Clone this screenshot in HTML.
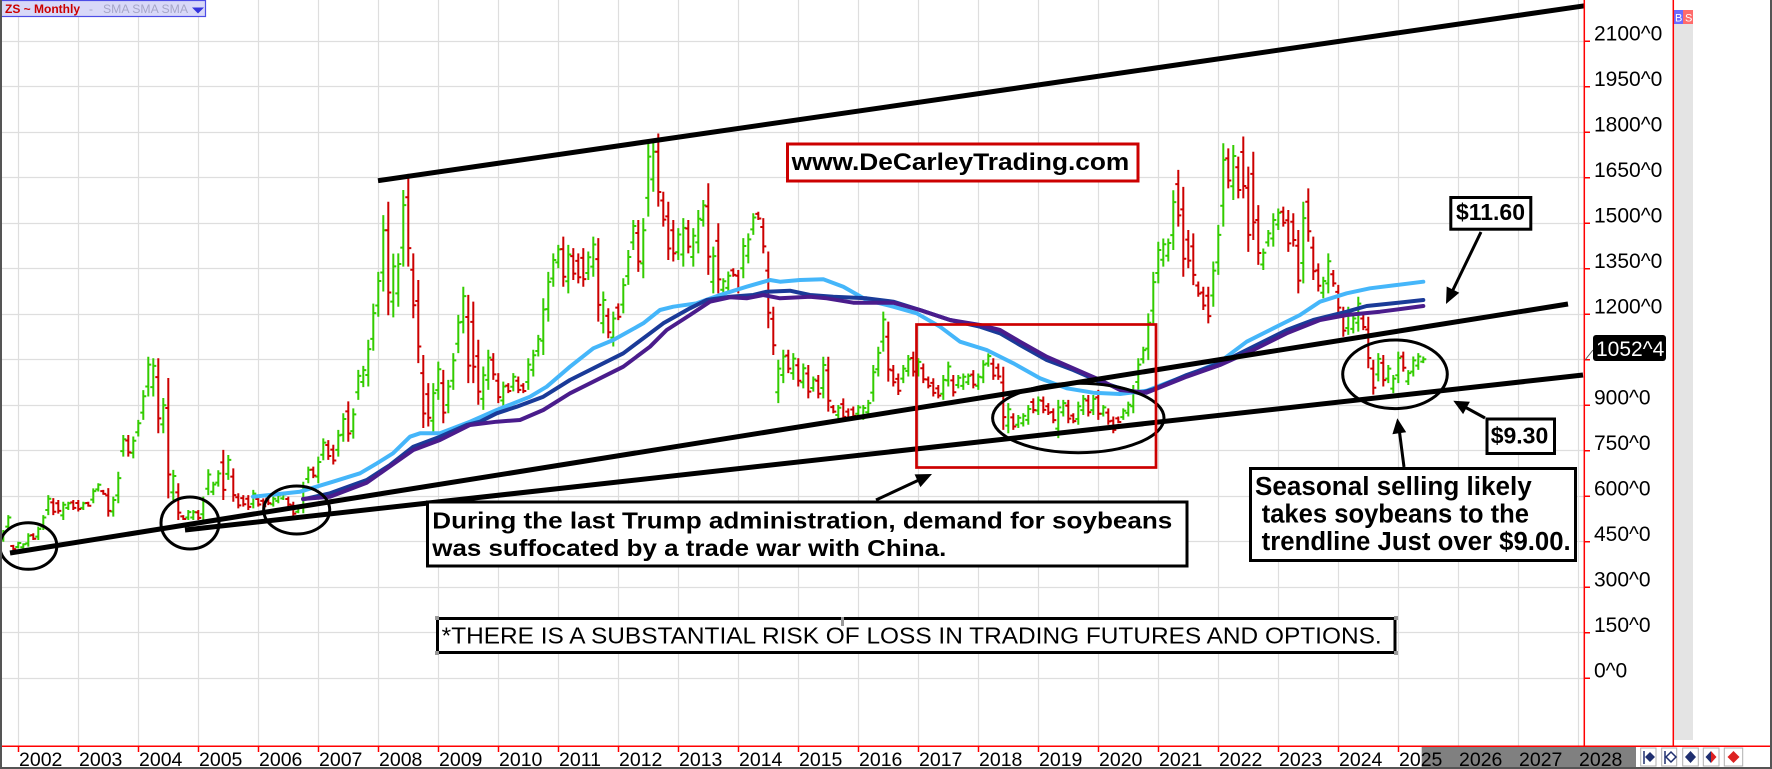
<!DOCTYPE html>
<html><head><meta charset="utf-8"><style>html,body{margin:0;padding:0;background:#fff;width:1772px;height:769px;overflow:hidden}svg{display:block}</style></head>
<body>
<svg width="1772" height="769" viewBox="0 0 1772 769" xmlns="http://www.w3.org/2000/svg" font-family="'Liberation Sans', Arial, sans-serif">
<defs><clipPath id="pa"><rect x="0" y="0" width="1584" height="746"/></clipPath></defs>
<rect x="0" y="0" width="1772" height="769" fill="#fff"/>
<!-- grid -->
<path stroke="#dedede" stroke-width="1.2" fill="none" d="M18.5 0V746M78.5 0V746M138.5 0V746M198.5 0V746M258.5 0V746M318.5 0V746M378.5 0V746M438.5 0V746M498.5 0V746M558.5 0V746M618.5 0V746M678.5 0V746M738.5 0V746M798.5 0V746M858.5 0V746M918.5 0V746M978.5 0V746M1038.5 0V746M1098.5 0V746M1158.5 0V746M1218.5 0V746M1278.5 0V746M1338.5 0V746M1398.5 0V746M1458.5 0V746M1518.5 0V746M1578.5 0V746M0 678.5H1584M0 632.5H1584M0 587.5H1584M0 541.5H1584M0 496.5H1584M0 450.5H1584M0 405.5H1584M0 359.5H1584M0 314.5H1584M0 268.5H1584M0 223.5H1584M0 177.5H1584M0 132.5H1584M0 86.5H1584M0 41.5H1584"/>
<g clip-path="url(#pa)">
<g transform="matrix(5,0,0,-0.30333,18.3,678.3)">
<path vector-effect="non-scaling-stroke" stroke="#33cc00" stroke-width="2" fill="none" d="M-3 489V450M-3 460h-.6M-3 482h.6M-2 538V489M-2 500h-.6M-2 530h.6M0 450V428M0 433h-.6M0 446h.6M1 445V428M1 432h-.6M1 442h.6M2 478V434M2 445h-.6M2 470h.6M4 500V456M4 467h-.6M4 492h.6M5 538V489M5 500h-.6M5 530h.6M6 604V538M6 555h-.6M6 592h.6M9 582V522M9 537h-.6M9 572h.6M10 582V555M10 562h-.6M10 577h.6M13 582V555M13 562h-.6M13 577h.6M15 626V577M15 589h-.6M15 617h.6M16 643V616M16 623h-.6M16 638h.6M19 599V533M19 550h-.6M19 588h.6M20 681V577M20 603h-.6M20 660h.6M21 802V731M21 749h-.6M21 788h.6M23 797V725M23 743h-.6M23 783h.6M24 852V797M24 811h-.6M24 841h.6M25 950V852M25 876h-.6M25 930h.6M26 1060V929M26 962h-.6M26 1034h.6M27 1055V929M27 960h-.6M27 1030h.6M29 924V808M29 837h-.6M29 900h.6M31 687V588M31 613h-.6M31 667h.6M34 555V522M34 530h-.6M34 548h.6M35 555V522M35 530h-.6M35 548h.6M37 599V522M37 541h-.6M37 584h.6M38 689V604M38 625h-.6M38 672h.6M39 648V604M39 615h-.6M39 639h.6M40 686V632M40 645h-.6M40 675h.6M42 736V654M42 674h-.6M42 720h.6M47 621V560M47 575h-.6M47 609h.6M51 599V566M51 574h-.6M51 592h.6M52 610V577M52 585h-.6M52 603h.6M53 610V588M53 593h-.6M53 606h.6M56 566V544M56 549h-.6M56 562h.6M57 648V544M57 570h-.6M57 627h.6M58 698V643M58 657h-.6M58 687h.6M60 731V643M60 665h-.6M60 713h.6M61 791V719M61 737h-.6M61 777h.6M64 819V731M64 753h-.6M64 801h.6M65 874V780M65 803h-.6M65 855h.6M67 890V790M67 815h-.6M67 870h.6M68 1017V918M68 943h-.6M68 997h.6M69 1030V960M69 977h-.6M69 1016h.6M70 1116V962M70 1000h-.6M70 1085h.6M71 1235V1080M71 1119h-.6M71 1204h.6M72 1340V1192M72 1229h-.6M72 1310h.6M73 1527V1275M73 1338h-.6M73 1477h.6M75 1400V1190M75 1242h-.6M75 1358h.6M76 1401V1225M76 1269h-.6M76 1366h.6M77 1610V1357M77 1420h-.6M77 1560h.6M83 973V808M83 849h-.6M83 940h.6M84 1044V918M84 950h-.6M84 1019h.6M86 984V874M86 901h-.6M86 962h.6M87 1072V951M87 981h-.6M87 1048h.6M88 1198V1072M88 1103h-.6M88 1173h.6M89 1291V1137M89 1175h-.6M89 1260h.6M93 1028V885M93 921h-.6M93 999h.6M94 1083V951M94 984h-.6M94 1057h.6M97 978V896M97 916h-.6M97 962h.6M99 1006V946M99 961h-.6M99 994h.6M102 1055V951M102 977h-.6M102 1034h.6M103 1083V995M103 1017h-.6M103 1065h.6M104 1132V1061M104 1079h-.6M104 1118h.6M105 1253V1066M105 1113h-.6M105 1216h.6M106 1340V1176M106 1217h-.6M106 1307h.6M107 1401V1291M107 1318h-.6M107 1379h.6M108 1429V1352M108 1371h-.6M108 1414h.6M110 1429V1269M110 1309h-.6M110 1397h.6M114 1407V1313M114 1336h-.6M114 1388h.6M115 1456V1324M115 1357h-.6M115 1430h.6M117 1275V1137M117 1171h-.6M117 1247h.6M119 1209V1094M119 1123h-.6M119 1186h.6M121 1319V1203M121 1232h-.6M121 1296h.6M122 1412V1297M122 1326h-.6M122 1389h.6M123 1511V1412M123 1437h-.6M123 1491h.6M125 1517V1319M125 1368h-.6M125 1477h.6M126 1769V1522M126 1584h-.6M126 1720h.6M127 1769V1604M127 1645h-.6M127 1736h.6M132 1484V1379M132 1405h-.6M132 1463h.6M133 1517V1357M133 1397h-.6M133 1485h.6M135 1484V1357M135 1389h-.6M135 1459h.6M136 1544V1401M136 1437h-.6M136 1515h.6M137 1577V1489M137 1511h-.6M137 1559h.6M139 1423V1269M139 1307h-.6M139 1392h.6M141 1319V1269M141 1281h-.6M141 1309h.6M142 1341V1269M142 1287h-.6M142 1327h.6M145 1451V1319M145 1352h-.6M145 1425h.6M146 1467V1368M146 1393h-.6M146 1447h.6M147 1533V1462M147 1480h-.6M147 1519h.6M152 1050V907M152 943h-.6M152 1021h.6M153 1083V973M153 1000h-.6M153 1061h.6M155 1072V984M155 1006h-.6M155 1054h.6M157 1038V956M157 976h-.6M157 1022h.6M159 995V945M159 957h-.6M159 985h.6M161 1060V923M161 957h-.6M161 1033h.6M164 901V857M164 868h-.6M164 892h.6M168 901V863M168 872h-.6M168 893h.6M169 901V852M169 864h-.6M169 891h.6M170 918V863M170 877h-.6M170 907h.6M171 1033V912M171 942h-.6M171 1009h.6M172 1093V995M172 1019h-.6M172 1073h.6M173 1209V1077M173 1110h-.6M173 1183h.6M177 1033V973M177 988h-.6M177 1021h.6M178 1066V995M178 1013h-.6M178 1052h.6M180 1055V995M180 1010h-.6M180 1043h.6M185 1000V918M185 938h-.6M185 984h.6M186 1044V962M186 982h-.6M186 1028h.6M188 1000V956M188 967h-.6M188 991h.6M189 1005V951M189 964h-.6M189 994h.6M190 1005V967M190 976h-.6M190 997h.6M192 1005V951M192 964h-.6M192 994h.6M193 1049V973M193 992h-.6M193 1034h.6M194 1071V1027M194 1038h-.6M194 1062h.6M198 907V808M198 833h-.6M198 887h.6M200 868V825M200 836h-.6M200 859h.6M201 874V830M201 841h-.6M201 865h.6M202 901V836M202 852h-.6M202 888h.6M204 929V868M204 883h-.6M204 917h.6M208 918V792M208 823h-.6M208 893h.6M209 918V863M209 877h-.6M209 907h.6M212 912V836M212 855h-.6M212 897h.6M213 934V868M213 884h-.6M213 921h.6M215 934V868M215 884h-.6M215 921h.6M217 901V863M217 872h-.6M217 893h.6M221 890V852M221 861h-.6M221 882h.6M222 912V863M222 875h-.6M222 902h.6M223 967V874M223 897h-.6M223 948h.6M224 1055V951M224 977h-.6M224 1034h.6M225 1093V1038M225 1052h-.6M225 1082h.6M226 1203V1049M226 1087h-.6M226 1172h.6M227 1340V1170M227 1212h-.6M227 1306h.6M228 1439V1302M228 1336h-.6M228 1412h.6M229 1450V1357M229 1380h-.6M229 1431h.6M230 1450V1374M230 1393h-.6M230 1435h.6M231 1609V1412M231 1461h-.6M231 1570h.6M239 1374V1225M239 1262h-.6M239 1344h.6M240 1495V1330M240 1371h-.6M240 1462h.6M241 1764V1489M241 1558h-.6M241 1709h.6M243 1758V1577M243 1622h-.6M243 1722h.6M249 1417V1346M249 1364h-.6M249 1403h.6M250 1478V1423M250 1437h-.6M250 1467h.6M251 1533V1423M251 1450h-.6M251 1511h.6M252 1549V1478M252 1496h-.6M252 1535h.6M257 1571V1302M257 1369h-.6M257 1517h.6M261 1324V1253M261 1271h-.6M261 1310h.6M262 1401V1269M262 1302h-.6M262 1375h.6M266 1225V1132M266 1155h-.6M266 1206h.6M267 1198V1137M267 1152h-.6M267 1186h.6M268 1258V1143M268 1172h-.6M268 1235h.6M272 1072V979M272 1002h-.6M272 1053h.6M274 1033V973M274 988h-.6M274 1021h.6M275 1000V940M275 955h-.6M275 988h.6M276 1077V973M276 999h-.6M276 1056h.6M278 1016V967M278 979h-.6M278 1006h.6M279 1061V995M279 1011h-.6M279 1048h.6M280 1072V1017M280 1031h-.6M280 1061h.6M281 1061V1039M281 1044h-.6M281 1052h.6"/>
<path vector-effect="non-scaling-stroke" stroke="#cc0000" stroke-width="2" fill="none" d="M-1 440V423M-1 436h-.6M-1 426h.6M3 478V456M3 472h-.6M3 460h.6M7 594V538M7 580h-.6M7 549h.6M8 588V543M8 577h-.6M8 552h.6M11 588V555M11 580h-.6M11 562h.6M12 588V550M12 578h-.6M12 558h.6M14 582V566M14 578h-.6M14 569h.6M17 621V605M17 617h-.6M17 608h.6M18 627V533M18 603h-.6M18 552h.6M22 802V731M22 784h-.6M22 745h.6M28 1055V808M28 993h-.6M28 857h.6M30 990V593M30 891h-.6M30 672h.6M32 643V522M32 613h-.6M32 546h.6M33 538V522M33 534h-.6M33 525h.6M36 555V522M36 547h-.6M36 529h.6M41 753V588M41 712h-.6M41 621h.6M43 692V582M43 665h-.6M43 604h.6M44 610V560M44 597h-.6M44 570h.6M45 604V566M45 594h-.6M45 574h.6M46 604V555M46 592h-.6M46 565h.6M48 599V566M48 591h-.6M48 573h.6M49 593V560M49 585h-.6M49 567h.6M50 599V571M50 592h-.6M50 577h.6M54 599V566M54 591h-.6M54 573h.6M55 582V533M55 570h-.6M55 543h.6M59 698V660M59 688h-.6M59 668h.6M62 785V720M62 769h-.6M62 733h.6M63 770V705M63 754h-.6M63 718h.6M66 913V780M66 880h-.6M66 807h.6M74 1571V1197M74 1477h-.6M74 1272h.6M78 1663V1357M78 1586h-.6M78 1418h.6M79 1401V1187M79 1347h-.6M79 1230h.6M80 1313V1039M80 1244h-.6M80 1094h.6M81 1066V825M81 1006h-.6M81 873h.6M82 973V830M82 937h-.6M82 859h.6M85 1017V841M85 973h-.6M85 876h.6M90 1264V973M90 1191h-.6M90 1031h.6M91 1242V973M91 1175h-.6M91 1027h.6M92 1116V902M92 1062h-.6M92 945h.6M95 1072V984M95 1050h-.6M95 1002h.6M96 1006V907M96 981h-.6M96 927h.6M98 973V940M98 965h-.6M98 947h.6M100 995V940M100 981h-.6M100 951h.6M101 973V940M101 965h-.6M101 947h.6M109 1456V1291M109 1415h-.6M109 1324h.6M111 1418V1313M111 1392h-.6M111 1334h.6M112 1401V1302M112 1376h-.6M112 1322h.6M113 1418V1291M113 1386h-.6M113 1316h.6M116 1451V1176M116 1382h-.6M116 1231h.6M118 1220V1121M118 1195h-.6M118 1141h.6M120 1236V1181M120 1222h-.6M120 1192h.6M124 1511V1340M124 1468h-.6M124 1374h.6M128 1796V1555M128 1736h-.6M128 1603h.6M129 1604V1489M129 1575h-.6M129 1512h.6M130 1571V1379M130 1523h-.6M130 1417h.6M131 1511V1374M131 1477h-.6M131 1401h.6M134 1511V1401M134 1483h-.6M134 1423h.6M138 1632V1330M138 1556h-.6M138 1390h.6M140 1500V1269M140 1442h-.6M140 1315h.6M143 1352V1324M143 1345h-.6M143 1330h.6M144 1346V1269M144 1327h-.6M144 1284h.6M148 1538V1511M148 1531h-.6M148 1516h.6M149 1517V1401M149 1488h-.6M149 1424h.6M150 1407V1154M150 1344h-.6M150 1205h.6M151 1225V1066M151 1185h-.6M151 1098h.6M154 1083V1006M154 1064h-.6M154 1021h.6M156 1055V962M156 1032h-.6M156 981h.6M158 1033V923M158 1005h-.6M158 945h.6M160 1000V923M160 981h-.6M160 938h.6M162 1060V879M162 1015h-.6M162 915h.6M163 901V874M163 894h-.6M163 879h.6M165 923V847M165 904h-.6M165 862h.6M166 890V847M166 879h-.6M166 856h.6M167 896V857M167 886h-.6M167 865h.6M174 1176V978M174 1126h-.6M174 1018h.6M175 1033V962M175 1015h-.6M175 976h.6M176 1005V934M176 987h-.6M176 948h.6M179 1077V995M179 1056h-.6M179 1011h.6M181 1038V973M181 1022h-.6M181 986h.6M182 995V956M182 985h-.6M182 964h.6M183 989V929M183 974h-.6M183 941h.6M184 967V923M184 956h-.6M184 932h.6M187 1000V929M187 982h-.6M187 943h.6M191 1016V956M191 1001h-.6M191 968h.6M195 1055V984M195 1037h-.6M195 998h.6M196 1038V984M196 1024h-.6M196 995h.6M197 1027V819M197 975h-.6M197 861h.6M199 874V819M199 860h-.6M199 830h.6M203 923V874M203 911h-.6M203 884h.6M205 929V874M205 915h-.6M205 885h.6M206 907V868M206 897h-.6M206 876h.6M207 890V841M207 878h-.6M207 851h.6M210 918V841M210 899h-.6M210 856h.6M211 874V841M211 866h-.6M211 848h.6M214 934V863M214 916h-.6M214 877h.6M216 951V852M216 926h-.6M216 872h.6M218 890V836M218 876h-.6M218 847h.6M219 863V808M219 849h-.6M219 819h.6M220 863V841M220 857h-.6M220 845h.6M232 1676V1489M232 1629h-.6M232 1526h.6M233 1620V1324M233 1546h-.6M233 1383h.6M234 1478V1352M234 1446h-.6M234 1377h.6M235 1467V1296M235 1424h-.6M235 1330h.6M236 1308V1258M236 1295h-.6M236 1268h.6M237 1291V1214M237 1272h-.6M237 1229h.6M238 1291V1170M238 1261h-.6M238 1194h.6M242 1747V1615M242 1714h-.6M242 1641h.6M244 1720V1582M244 1685h-.6M244 1610h.6M245 1786V1582M245 1735h-.6M245 1623h.6M246 1687V1406M246 1617h-.6M246 1462h.6M247 1736V1445M247 1663h-.6M247 1503h.6M248 1560V1363M248 1511h-.6M248 1402h.6M253 1555V1489M253 1538h-.6M253 1502h.6M254 1544V1406M254 1510h-.6M254 1434h.6M255 1533V1423M255 1505h-.6M255 1445h.6M256 1478V1269M256 1426h-.6M256 1311h.6M258 1615V1439M258 1571h-.6M258 1474h.6M259 1456V1313M259 1420h-.6M259 1342h.6M260 1368V1275M260 1345h-.6M260 1294h.6M263 1346V1291M263 1332h-.6M263 1302h.6M264 1297V1203M264 1274h-.6M264 1222h.6M265 1225V1126M265 1200h-.6M265 1146h.6M269 1198V1148M269 1186h-.6M269 1158h.6M270 1192V1022M270 1150h-.6M270 1056h.6M271 1050V935M271 1021h-.6M271 958h.6M273 1066V962M273 1040h-.6M273 983h.6M277 1077V1011M277 1061h-.6M277 1024h.6"/>
</g>
<!-- moving averages -->
<g fill="none" stroke-width="4" stroke-linejoin="round" stroke-linecap="round">
<polyline stroke="#45b6fa" points="253,496.7 300,491.7 333,481.7 360,473.3 377,463.3 393,453.3 410,436.7 420,433.3 440,433.3 470,421.7 496.7,410 530,396.7 546.7,386.7 570,366.7 593.3,348.3 613.3,340 643.3,323.3 660,310 673.3,306.7 696.7,303.3 720,295 746.7,286.7 770,280 780,281.7 800,280 823.3,279.3 843.3,286.7 866.7,300 893.3,306.7 916.7,313.3 940,326.7 960,341.7 986.7,350 1013.3,363.3 1040,378.3 1066.7,388.3 1093.3,392.7 1120,394 1146.7,390.7 1170,381.7 1196.7,371.7 1220,361.7 1246.7,341.7 1273.3,328.3 1300,315 1320,301.7 1346.7,293.3 1370,288.3 1396.7,285 1423.3,281.7"/>
<polyline stroke="#1a3a98" points="303.3,499.3 330,493.3 366.7,480 390,465 413.3,446.7 440,436.7 466.7,425 480,421.7 496.7,413.3 516.7,406.7 543.3,396.7 570,380 603.3,363.3 623.3,353.3 650,333.3 663.3,323.3 690,308.3 706.7,300 730,296.7 753.3,295 766.7,291.7 790,290.7 810,295 833.3,296.7 866.7,298.3 893.3,301.7 920,310 950,320 980,326.7 1000,333.3 1020,345 1046.7,360 1073.3,370 1100,381.7 1120,388.3 1140,393.3 1153.3,389.3 1186.7,375 1220,363.3 1253.3,346.7 1286.7,330 1313.3,320 1346.7,311.7 1366.7,306 1393.3,303.3 1423.3,300"/>
<polyline stroke="#4a1c8c" points="303,499 330,496.7 366.7,482.7 413.3,450 440,440 470,425 496.7,421.7 520,420 543.3,410 570,393.3 603.3,376.7 623.3,366.7 650,346.7 666.7,330 690,315 710,301.7 730,297.3 746.7,298.3 763.3,295 780,298.3 810,296.7 826.7,298.3 853.3,302.7 893.3,302.7 920,310 950,320 980,325 1000,330 1020,341.7 1046.7,356.7 1073.3,368.3 1100,380 1120,390 1146.7,392.7 1186.7,376.7 1220,365 1253.3,350 1286.7,333.3 1320,320 1346.7,315 1380,311.7 1423.3,306"/>
</g>
<!-- trend lines -->
<g stroke="#000" stroke-width="5" fill="none">
<line x1="10" y1="553" x2="1568" y2="304"/>
<line x1="185" y1="530" x2="1583" y2="375"/>
<line x1="378" y1="180.7" x2="1590" y2="5"/>
</g>
<!-- ellipses -->
<g stroke="#000" stroke-width="3" fill="none">
<ellipse cx="28.3" cy="546" rx="28.5" ry="23.3"/>
<ellipse cx="190" cy="523" rx="29" ry="26"/>
<ellipse cx="296.7" cy="510" rx="33" ry="24"/>
<ellipse cx="1078.3" cy="418" rx="85.7" ry="34.7"/>
<ellipse cx="1395" cy="374.3" rx="52.3" ry="34.3"/>
</g>
<rect x="916.5" y="324.5" width="239.5" height="143" fill="none" stroke="#cc0000" stroke-width="2.7"/>
</g>
<!-- annotation boxes -->
<rect x="787.5" y="144" width="350.5" height="37" fill="#fff" stroke="#cc0000" stroke-width="3"/>
<text x="791.7" y="170" font-size="24" font-weight="bold" textLength="337.6" lengthAdjust="spacingAndGlyphs">www.DeCarleyTrading.com</text>

<rect x="427.5" y="502" width="759.5" height="64" fill="#fff" stroke="#000" stroke-width="3"/>
<text x="432.3" y="528.3" font-size="23" font-weight="bold" font-family="'Liberation Sans Narrow','Liberation Sans',Arial,sans-serif" textLength="740" lengthAdjust="spacingAndGlyphs">During the last Trump administration, demand for soybeans</text>
<text x="432.3" y="556" font-size="23" font-weight="bold" font-family="'Liberation Sans Narrow','Liberation Sans',Arial,sans-serif" textLength="514" lengthAdjust="spacingAndGlyphs">was suffocated by a trade war with China.</text>

<rect x="437.5" y="618.5" width="957.5" height="34" fill="#fff" stroke="#000" stroke-width="3"/>
<rect x="435" y="616" width="4" height="4" fill="#999"/><rect x="435" y="651" width="4" height="4" fill="#999"/><rect x="1394" y="616" width="4" height="4" fill="#999"/><rect x="1394" y="651" width="4" height="4" fill="#999"/><rect x="841" y="617" width="3" height="9" fill="#999"/>
<text x="441.7" y="643.3" font-size="23.5" font-family="'Liberation Sans Narrow','Liberation Sans',Arial,sans-serif" textLength="940" lengthAdjust="spacingAndGlyphs">*THERE IS A SUBSTANTIAL RISK OF LOSS IN TRADING FUTURES AND OPTIONS.</text>

<rect x="1250.5" y="468.5" width="325" height="92" fill="#fff" stroke="#000" stroke-width="3"/>
<g font-size="25.5" font-weight="bold">
<text x="1255" y="495" textLength="276.7" lengthAdjust="spacingAndGlyphs">Seasonal selling likely</text>
<text x="1261.7" y="522.7" textLength="267.3" lengthAdjust="spacingAndGlyphs">takes soybeans to the</text>
<text x="1261.7" y="550" textLength="309" lengthAdjust="spacingAndGlyphs">trendline Just over $9.00.</text>
</g>

<rect x="1487" y="419" width="67.5" height="34.5" fill="#fff" stroke="#000" stroke-width="3"/>
<text x="1490.7" y="443.3" font-size="23" font-weight="bold" textLength="57.6" lengthAdjust="spacingAndGlyphs">$9.30</text>
<rect x="1450.8" y="197.5" width="80" height="31.7" fill="#fff" stroke="#000" stroke-width="3"/>
<text x="1456" y="220" font-size="23" font-weight="bold" textLength="69" lengthAdjust="spacingAndGlyphs">$11.60</text>

<!-- arrows -->
<g stroke="#000" stroke-width="3">
<line x1="1481" y1="232" x2="1451" y2="294"/>
<line x1="1485" y1="418" x2="1464" y2="406.5"/>
<line x1="1404" y1="467" x2="1399.5" y2="432"/>
<line x1="876" y1="500" x2="920" y2="479.5"/>
</g>
<g fill="#000">
<polygon points="1446,304 1459.3,292.7 1446.7,286.5"/>
<polygon points="1453.3,400.7 1469.9,401.8 1463.1,414.1"/>
<polygon points="1397.3,418.3 1406.2,432.2 1392.4,434.2"/>
<polygon points="932,474 920.4,487.1 914.6,474.4"/>
</g>

<!-- legend -->
<rect x="0.5" y="0.5" width="205" height="16" fill="#d8d8f8" stroke="#4c4ce6" stroke-width="1.2"/>
<text x="5" y="13" font-size="11.5" font-weight="bold" fill="#cc0000" textLength="75" lengthAdjust="spacingAndGlyphs">ZS ~ Monthly</text>
<text x="89" y="13" font-size="12" fill="#a6a6c8">-</text>
<text x="103" y="13" font-size="12" fill="#a6a6c8" textLength="85" lengthAdjust="spacingAndGlyphs">SMA SMA SMA</text>
<polygon points="192,7.5 204,7.5 198,13.5" fill="#3333dd"/>

<!-- right panel -->
<rect x="1674" y="24" width="19" height="716" fill="#e4e4e4"/>
<rect x="1673.3" y="10" width="9.7" height="14" fill="#6b6bff"/>
<rect x="1683" y="10" width="10" height="14" fill="#ff6b6b"/>
<text x="1675" y="21.5" font-size="11" fill="#fff">B</text>
<text x="1685" y="21.5" font-size="11" fill="#fff">S</text>
<g stroke="#ff0000" stroke-width="1.5" fill="none">
<path d="M1584.3 0V746M1673.3 0V746M0 746.3H1772"/>
<path d="M1584 41.3h6M1584 86.8h6M1584 132.3h6M1584 177.8h6M1584 223.3h6M1584 268.8h6M1584 314.3h6M1584 359.8h6M1584 405.3h6M1584 450.8h6M1584 496.3h6M1584 541.8h6M1584 587.3h6M1584 632.8h6M1584 678.3h6"/>
<path d="M18.5 746V752M78.5 746V752M138.5 746V752M198.5 746V752M258.5 746V752M318.5 746V752M378.5 746V752M438.5 746V752M498.5 746V752M558.5 746V752M618.5 746V752M678.5 746V752M738.5 746V752M798.5 746V752M858.5 746V752M918.5 746V752M978.5 746V752M1038.5 746V752M1098.5 746V752M1158.5 746V752M1218.5 746V752M1278.5 746V752M1338.5 746V752M1398.5 746V752M1458.5 746V752M1518.5 746V752M1578.5 746V752"/>
</g>
<!-- price labels -->
<g font-size="21" fill="#000">
<text x="1594" y="40.5">2100^0</text>
<text x="1594" y="86">1950^0</text>
<text x="1594" y="131.5">1800^0</text>
<text x="1594" y="177">1650^0</text>
<text x="1594" y="222.5">1500^0</text>
<text x="1594" y="268">1350^0</text>
<text x="1594" y="313.5">1200^0</text>
<text x="1594" y="404.5">900^0</text>
<text x="1594" y="450">750^0</text>
<text x="1594" y="495.5">600^0</text>
<text x="1594" y="541">450^0</text>
<text x="1594" y="586.5">300^0</text>
<text x="1594" y="632">150^0</text>
<text x="1594" y="677.5">0^0</text>
</g>
<line x1="1585" y1="360" x2="1593" y2="350" stroke="#555" stroke-width="1"/>
<rect x="1593" y="335" width="73" height="26" rx="3" fill="#000"/>
<text x="1596" y="356" font-size="21" fill="#fff">1052^4</text>

<!-- bottom axis -->
<rect x="1421.7" y="747" width="214.3" height="20" fill="#808080"/>
<g font-size="19.5" fill="#000">
<text x="19" y="766">2002</text><text x="79" y="766">2003</text><text x="139" y="766">2004</text><text x="199" y="766">2005</text><text x="259" y="766">2006</text><text x="319" y="766">2007</text><text x="379" y="766">2008</text><text x="439" y="766">2009</text><text x="499" y="766">2010</text><text x="559" y="766">2011</text><text x="619" y="766">2012</text><text x="679" y="766">2013</text><text x="739" y="766">2014</text><text x="799" y="766">2015</text><text x="859" y="766">2016</text><text x="919" y="766">2017</text><text x="979" y="766">2018</text><text x="1039" y="766">2019</text><text x="1099" y="766">2020</text><text x="1159" y="766">2021</text><text x="1219" y="766">2022</text><text x="1279" y="766">2023</text><text x="1339" y="766">2024</text><text x="1399" y="766">2025</text><text x="1459" y="766">2026</text><text x="1519" y="766">2027</text><text x="1579" y="766">2028</text>
</g>
<!-- icons -->
<g stroke="#b0b0b0" stroke-width="1" fill="#fff">
<rect x="1640.7" y="748" width="15.3" height="18"/>
<rect x="1661.7" y="748" width="15" height="18"/>
<rect x="1682.7" y="748" width="15.6" height="18"/>
<rect x="1703.3" y="748" width="15.7" height="18"/>
<rect x="1724.3" y="748" width="18.4" height="18"/>
</g>
<g>
<path d="M1644 751V764" stroke="#1f2f6f" stroke-width="1.5"/>
<polygon points="1650,752 1655,757 1650,762 1645,757" fill="#1f2f6f"/>
<path d="M1665 751V764" stroke="#1f2f6f" stroke-width="1.5"/>
<polygon points="1671,752 1676,757 1671,762 1666,757" fill="none" stroke="#1f2f6f" stroke-width="1.5"/>
<polygon points="1690.5,751 1696,757 1690.5,763 1685,757" fill="#1f2f6f"/>
<polygon points="1711,751 1711,763 1705.5,757" fill="#1f2f6f"/>
<polygon points="1711,751 1716.5,757 1711,763" fill="#dd2222"/>
<polygon points="1733.5,751 1739.5,757 1733.5,763 1727.5,757" fill="#dd2222"/>
</g>
<!-- borders -->
<path d="M1 0V769M0 768H1772M1771 0V769" stroke="#555" stroke-width="2" fill="none"/>
</svg>
</body></html>
